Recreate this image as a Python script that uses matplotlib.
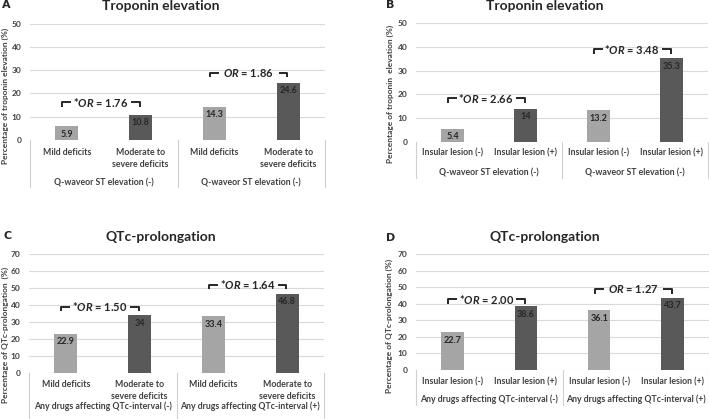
import numpy as np
import matplotlib
matplotlib.use("Agg")
import matplotlib.pyplot as plt

plt.rcParams['font.family'] = ['Lato', 'DejaVu Sans']
plt.rcParams['font.weight'] = 'bold'
plt.rcParams['mathtext.fontset'] = 'custom'
plt.rcParams['mathtext.it'] = 'Lato:italic:bold'
plt.rcParams['mathtext.rm'] = 'Lato:bold'

# data
deficit_cats = ["Mild deficits", "Moderate to\nsevere deficits", "Mild deficits", "Moderate to\nsevere deficits"]
insular_cats = ["Insular lesion (-)", "Insular lesion (+)", "Insular lesion (-)", "Insular lesion (+)"]
tropo_groups = ["Q-waveor ST elevation (-)", "Q-waveor ST elevation (-)"]
qtc_groups = ["Any drugs affecting QTc-interval (-)", "Any drugs affecting QTc-interval (+)"]

vals_a = [5.9, 10.8, 14.3, 24.6]
vals_b = [5.4, 14, 13.2, 35.3]
vals_c = [22.9, 34, 33.4, 46.8]
vals_d = [22.7, 38.6, 36.1, 43.7]

or_a = ["*", "1.76", "", "1.86"]
or_b = ["*", "2.66", "*", "3.48"]
or_c = ["*", "1.50", "*", "1.64"]
or_d = ["*", "2.00", "", "1.27"]
or_y_a = [16.3, 28.9]
or_y_b = [18.3, 39.1]
or_y_c = [39.0, 51.9]
or_y_d = [42.7, 48.7]

LIGHT = "#a5a5a5"
DARK = "#595959"
TXT = "#404040"
W, H = 709, 419

fig = plt.figure(figsize=(W / 100, H / 100), dpi=100)


def px_axes(left, right, top, bottom):
    return fig.add_axes([left / W, 1 - bottom / H, (right - left) / W, (bottom - top) / H])


def panel(ax, vals, cats, groups, ors, or_y, ymax, step, row_px, grp_px, line_px):
    h_px = ax.get_position().height * H
    x = np.arange(len(vals))
    ax.bar(x, vals, width=0.31, color=[LIGHT, DARK, LIGHT, DARK], zorder=2)
    ax.set_xlim(-0.5, 3.5)
    ax.set_ylim(0, ymax)
    ax.set_yticks(np.arange(0, ymax + 1, step))
    ax.set_xticks([])
    ax.grid(axis='y', color='#d9d9d9', lw=0.8, zorder=0)
    for s in ax.spines.values():
        s.set_visible(False)
    ax.tick_params(axis='y', length=0, labelsize=6, labelcolor=TXT, pad=6)
    for lab in ax.get_yticklabels():
        lab.set_fontweight('bold')

    # value labels inside bars
    for xi, v in zip(x, vals):
        ax.annotate(f"{v:g}", (xi, v), xytext=(0, -2.5), textcoords='offset points',
                    ha='center', va='top', fontsize=6.5, color='#262626', fontweight='bold')

    # category table
    tr = ax.get_xaxis_transform()
    for xi, c in zip(x, cats):
        for i, line in enumerate(c.split("\n")):
            ax.text(xi, -(row_px + i * 12) / h_px, line, transform=tr, ha='center', va='center',
                    fontsize=6.3, color=TXT, fontweight='bold')
    for gi, g in enumerate(groups):
        ax.text(0.5 + 2 * gi, -grp_px / h_px, g, transform=tr, ha='center', va='center',
                fontsize=6.3, color=TXT, fontweight='bold')
    for xv in [-0.5, 1.5, 3.5]:
        ax.plot([xv, xv], [0, -line_px / h_px], transform=tr, color='#d0d0d0', lw=0.8, clip_on=False)

    # odds ratio brackets
    tick = 4.5 / h_px * ymax
    for gi in range(2):
        mid = 0.5 + 2 * gi
        y = or_y[gi]
        star, val = ors[2 * gi], ors[2 * gi + 1]
        ax.text(mid - 0.04, y, star + r"$\mathit{OR}$ = " + val, ha='center', va='center',
                fontsize=8, color='#262626', fontweight='bold')
        ax.plot([mid - 0.44, mid - 0.56, mid - 0.56], [y, y, y - tick], color='#262626', lw=1.4,
                solid_capstyle='butt')
        ax.plot([mid + 0.37, mid + 0.49, mid + 0.49], [y, y, y - tick], color='#262626', lw=1.4,
                solid_capstyle='butt')


ax_a = px_axes(30, 325, 23.7, 140)
panel(ax_a, vals_a, deficit_cats, tropo_groups, or_a, or_y_a, 50, 10, 12, 43, 47)
ax_b = px_axes(416, 708, 23.3, 141.7)
panel(ax_b, vals_b, insular_cats, tropo_groups, or_b, or_y_b, 50, 10, 11.5, 31, 36)
ax_c = px_axes(29, 324, 254.3, 372.7)
panel(ax_c, vals_c, deficit_cats, qtc_groups, or_c, or_y_c, 70, 10, 11.5, 33.5, 46)
ax_d = px_axes(416, 709, 254, 370)
panel(ax_d, vals_d, insular_cats, qtc_groups, or_d, or_y_d, 70, 10, 12, 29, 35)

# titles, panel letters, y labels
for x, y, t in [(161, 6, "Troponin elevation"), (545, 6, "Troponin elevation"),
                (161, 237, "QTc-prolongation"), (545, 237, "QTc-prolongation")]:
    fig.text(x / W, 1 - y / H, t, ha='center', va='center', fontsize=10, fontweight='bold', color='#262626')
for x, y, t in [(2, 5, "A"), (386, 5, "B"), (3, 236, "C"), (386, 238, "D")]:
    fig.text(x / W, 1 - y / H, t, ha='left', va='center', fontsize=8, fontweight='bold',
             color='#262626', family='DejaVu Sans')
for x, y, t in [(5, 96, "Percentage of troponin elevation (%)"), (390, 94, "Percentage of troponin  elevation (%)"),
                (5, 335, "Percentage of QTc-prolongation  (%)"), (389, 326, "Percentage of QTc-prolongation (%)")]:
    fig.text(x / W, 1 - y / H, t, ha='center', va='center', rotation=90, fontsize=6,
             fontweight='bold', color=TXT)

fig.savefig("out.png", dpi=100)
